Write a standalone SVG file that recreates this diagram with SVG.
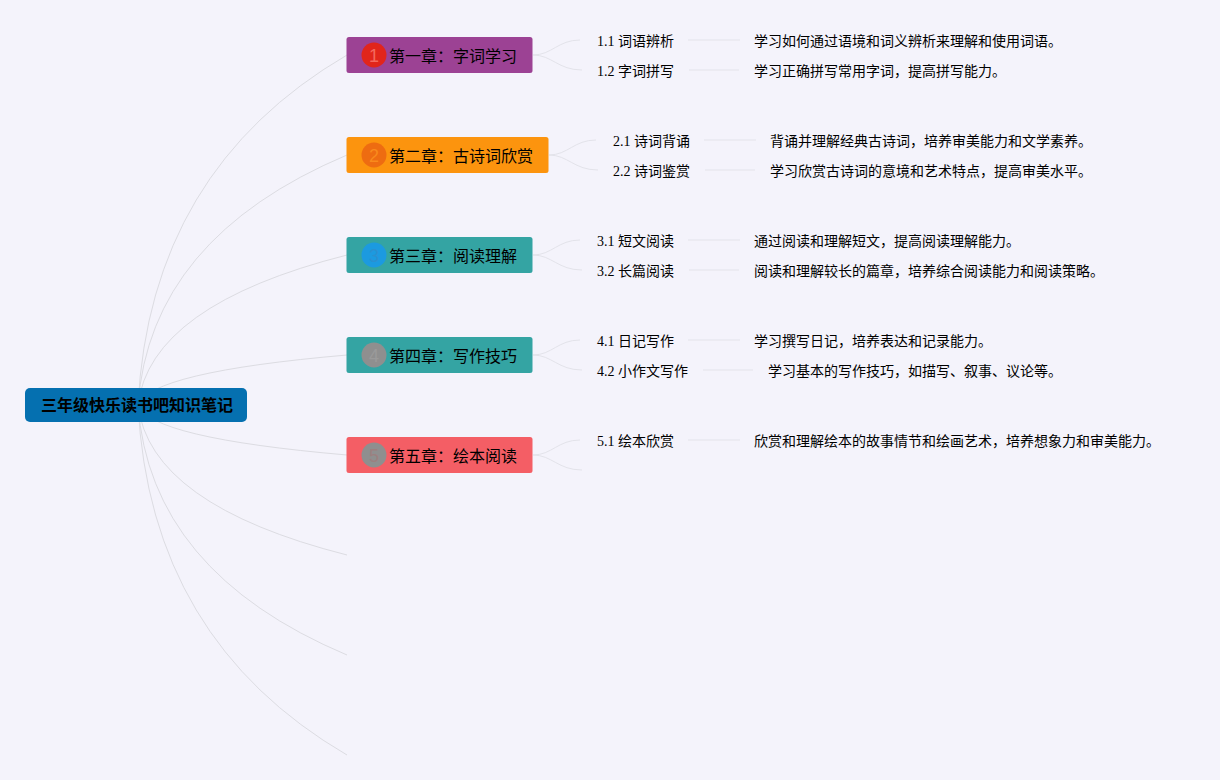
<svg xmlns="http://www.w3.org/2000/svg" width="1220" height="780" viewBox="0 0 1220 780">
<style>
text{font-family:"Liberation Serif","Noto Sans CJK SC",serif;fill:#000}
.c{fill:none;stroke:#dcdce2;stroke-width:1}
.s{fill:none;stroke:#e3e3ea;stroke-width:1}
.ch{font-size:16px}
.t{font-size:14px}
.d{font-size:14px}
.n{font-family:"Liberation Sans","Noto Sans CJK SC",sans-serif;font-size:18px;text-anchor:middle}
</style>
<rect width="1220" height="780" fill="#f4f3fb"/>
<g id="connectors">
<path class="c" d="M138 405Q150 170 347 55"/>
<path class="c" d="M138 405Q150 238 347 155"/>
<path class="c" d="M138 405Q150 305 347 255"/>
<path class="c" d="M138 405Q150 372 347 355"/>
<path class="c" d="M138 405Q150 438 347 455"/>
<path class="c" d="M138 405Q150 505 347 555"/>
<path class="c" d="M138 405Q150 572 347 655"/>
<path class="c" d="M138 405Q150 640 347 755"/>
<path class="s" d="M533 55C552 55 558 40 580 40M533 55C552 55 558 70 582 70M688 40H740M689 70H739"/>
<path class="s" d="M549 155C568 155 574 140 596 140M549 155C568 155 574 170 598 170M704 140H756M705 170H755"/>
<path class="s" d="M533 255C552 255 558 240 580 240M533 255C552 255 558 270 582 270M688 240H740M689 270H739"/>
<path class="s" d="M533 355C552 355 558 340 580 340M533 355C552 355 558 370 582 370M688 340H740M703 370H753"/>
<path class="s" d="M533 455C552 455 558 440 580 440M533 455C552 455 558 470 582 470M688 440H740"/>
</g>
<g id="root"><rect x="25" y="388" width="222" height="34" rx="5" fill="#0570b0"/><text x="41" y="411" font-size="16" font-weight="700">三年级快乐读书吧知识笔记</text></g>
<g id="ch1"><rect x="346.500" y="37" width="186" height="36" rx="2.500" fill="#9c4294"/><circle cx="374" cy="55" r="12.500" fill="#e1251b"/><text class="n" x="374" y="61.500" style="fill:#f4685e">1</text><text class="ch" x="389" y="62">第一章：字词学习</text></g>
<g id="ch2"><rect x="346.500" y="137" width="202" height="36" rx="2.500" fill="#fc940e"/><circle cx="374" cy="155" r="12.500" fill="#ee6c11"/><text class="n" x="374" y="161.500" style="fill:#f98a1c">2</text><text class="ch" x="389" y="162">第二章：古诗词欣赏</text></g>
<g id="ch3"><rect x="346.500" y="237" width="186" height="36" rx="2.500" fill="#34a4a3"/><circle cx="374" cy="255" r="12.500" fill="#1c9ae0"/><text class="n" x="374" y="261.500" style="fill:#2a90d0">3</text><text class="ch" x="389" y="262">第三章：阅读理解</text></g>
<g id="ch4"><rect x="346.500" y="337" width="186" height="36" rx="2.500" fill="#34a4a3"/><circle cx="374" cy="355" r="12.500" fill="#8f8f8f"/><text class="n" x="374" y="361.500" style="fill:#9a9a9a">4</text><text class="ch" x="389" y="362">第四章：写作技巧</text></g>
<g id="ch5"><rect x="346.500" y="437" width="186" height="36" rx="2.500" fill="#f45e65"/><circle cx="374" cy="455" r="12.500" fill="#8f8f8f"/><text class="n" x="374" y="461.500" style="fill:#9c8080">5</text><text class="ch" x="389" y="462">第五章：绘本阅读</text></g>
<g id="t11"><text class="t" x="597" y="46">1.1 词语辨析</text></g>
<g id="d11"><text class="d" x="754" y="46">学习如何通过语境和词义辨析来理解和使用词语。</text></g>
<g id="t12"><text class="t" x="597" y="76">1.2 字词拼写</text></g>
<g id="d12"><text class="d" x="754" y="76">学习正确拼写常用字词，提高拼写能力。</text></g>
<g id="t21"><text class="t" x="613" y="146">2.1 诗词背诵</text></g>
<g id="d21"><text class="d" x="770" y="146">背诵并理解经典古诗词，培养审美能力和文学素养。</text></g>
<g id="t22"><text class="t" x="613" y="176">2.2 诗词鉴赏</text></g>
<g id="d22"><text class="d" x="770" y="176">学习欣赏古诗词的意境和艺术特点，提高审美水平。</text></g>
<g id="t31"><text class="t" x="597" y="246">3.1 短文阅读</text></g>
<g id="d31"><text class="d" x="754" y="246">通过阅读和理解短文，提高阅读理解能力。</text></g>
<g id="t32"><text class="t" x="597" y="276">3.2 长篇阅读</text></g>
<g id="d32"><text class="d" x="754" y="276">阅读和理解较长的篇章，培养综合阅读能力和阅读策略。</text></g>
<g id="t41"><text class="t" x="597" y="346">4.1 日记写作</text></g>
<g id="d41"><text class="d" x="754" y="346">学习撰写日记，培养表达和记录能力。</text></g>
<g id="t42"><text class="t" x="597" y="376">4.2 小作文写作</text></g>
<g id="d42"><text class="d" x="768" y="376">学习基本的写作技巧，如描写、叙事、议论等。</text></g>
<g id="t51"><text class="t" x="597" y="446">5.1 绘本欣赏</text></g>
<g id="d51"><text class="d" x="754" y="446">欣赏和理解绘本的故事情节和绘画艺术，培养想象力和审美能力。</text></g>
</svg>
